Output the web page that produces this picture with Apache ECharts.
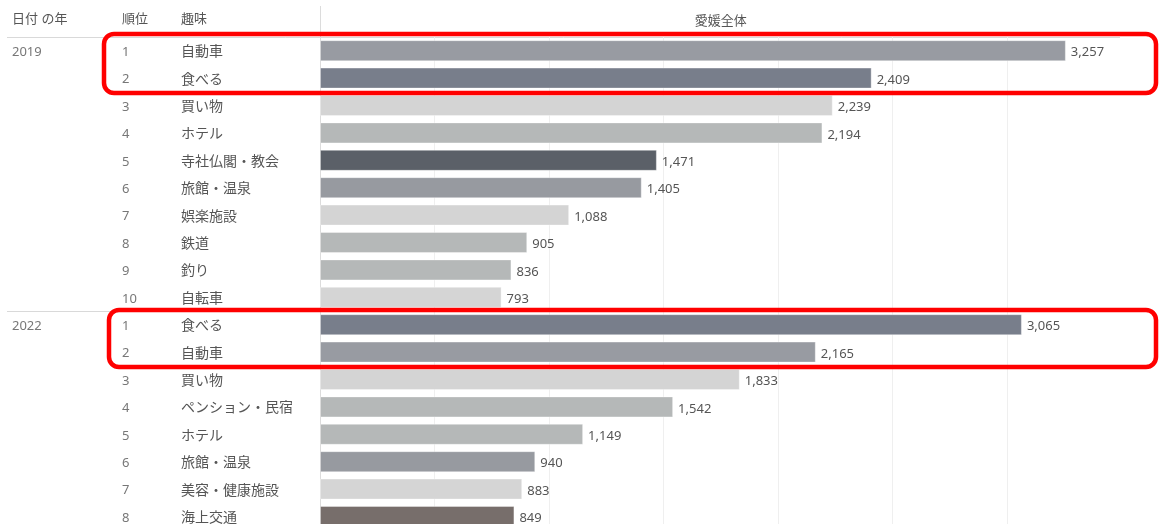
<!DOCTYPE html>
<html>
<head>
<meta charset="utf-8">
<style>
  html, body { margin: 0; padding: 0; background: #ffffff; overflow: hidden; width: 1168px; height: 524px; }
  #chart { width: 1168px; height: 531px; }
</style>
<script src="https://cdn.jsdelivr.net/npm/echarts@6/dist/echarts.min.js"></script>
</head>
<body>
<div id="chart"></div>
<script>
// ---- data ----
const years = ['2019', '2022'];
const hobbies2019 = ['自動車', '食べる', '買い物', 'ホテル', '寺社仏閣・教会', '旅館・温泉', '娯楽施設', '鉄道', '釣り', '自転車'];
const values2019 = [3257, 2409, 2239, 2194, 1471, 1405, 1088, 905, 836, 793];
const hobbies2022 = ['食べる', '自動車', '買い物', 'ペンション・民宿', 'ホテル', '旅館・温泉', '美容・健康施設', '海上交通'];
const values2022 = [3065, 2165, 1833, 1542, 1149, 940, 883, 849];
const headerYear = '日付 の年';
const headerRank = '順位';
const headerHobby = '趣味';
const measureName = '愛媛全体';

// ---- styles ----
const hobbyColors = {
  '自動車': '#989ba2',
  '食べる': '#787e8b',
  '買い物': '#d4d4d4',
  'ホテル': '#b5b8b8',
  '寺社仏閣・教会': '#5b6068',
  '旅館・温泉': '#979aa0',
  '娯楽施設': '#d4d4d4',
  '鉄道': '#b5b8b8',
  '釣り': '#b5b8b8',
  '自転車': '#d5d5d5',
  'ペンション・民宿': '#b5b8b8',
  '美容・健康施設': '#d5d5d5',
  '海上交通': '#776e6b'
};

// ---- build rows ----
const rows = [];
[[years[0], hobbies2019, values2019], [years[1], hobbies2022, values2022]].forEach(([yr, hs, vs]) => {
  hs.forEach((h, i) => rows.push({ key: yr + '-' + (i + 1), year: yr, rank: i + 1, hobby: h, value: vs[i] }));
});
const rowMap = {};
rows.forEach(r => rowMap[r.key] = r);

const FONT = '"Noto Sans", "Noto Sans CJK JP", sans-serif';
const chart = echarts.init(document.getElementById('chart'), null, { renderer: 'canvas' });

const option = {
  backgroundColor: '#ffffff',
  animation: false,
  grid: { left: 320, right: 46.5, top: 37, height: 493.2, containLabel: false },
  xAxis: {
    type: 'value',
    position: 'top',
    min: 0,
    max: 3500,
    interval: 500,
    name: measureName,
    nameLocation: 'middle',
    nameGap: 9,
    nameTextStyle: { color: '#555', fontSize: 13, fontFamily: FONT },
    axisLine: { show: false },
    axisTick: { show: false },
    axisLabel: { show: false },
    splitLine: { show: true, showMinLine: false, showMaxLine: false, lineStyle: { color: '#efefef', width: 1 } }
  },
  yAxis: {
    type: 'category',
    inverse: true,
    data: rows.map(r => r.key),
    axisLine: { show: true, lineStyle: { color: '#dcdcdc', width: 1 } },
    axisTick: { show: false },
    axisLabel: {
      margin: 308,
      align: 'left',
      interval: 0,
      fontFamily: FONT,
      padding: [3, 0, 0, 0],
      formatter: function (v) {
        const r = rowMap[v];
        const y = r.rank === 1 ? r.year : '';
        return '{y|' + y + '}{r|' + r.rank + '}{n|' + r.hobby + '}';
      },
      rich: {
        y: { width: 110, color: '#777', fontSize: 13, fontFamily: FONT },
        r: { width: 59, color: '#777', fontSize: 13, fontFamily: FONT },
        n: { color: '#555', fontSize: 14, fontFamily: FONT }
      }
    },
    splitLine: { show: false }
  },
  series: [{
    type: 'bar',
    barWidth: 21,
    data: rows.map(r => ({
      value: r.value,
      itemStyle: { color: hobbyColors[r.hobby], borderColor: 'rgba(255,255,255,0.35)', borderWidth: 1 }
    })),
    label: {
      show: true,
      position: 'right',
      distance: 5,
      offset: [0, 2],
      color: '#555',
      fontSize: 13,
      fontFamily: FONT,
      formatter: p => p.value.toLocaleString('en-US')
    }
  }],
  graphic: [
    { type: 'text', left: 12, top: 13, style: { text: headerYear, fill: '#555', font: '13px ' + FONT } },
    { type: 'text', left: 122, top: 13, style: { text: headerRank, fill: '#555', font: '13px ' + FONT } },
    { type: 'text', left: 181, top: 13, style: { text: headerHobby, fill: '#555', font: '13px ' + FONT } },
    { type: 'line', shape: { x1: 320.5, y1: 6, x2: 320.5, y2: 37 }, style: { stroke: '#dcdcdc', lineWidth: 1 } },
    { type: 'line', shape: { x1: 7, y1: 37.5, x2: 1120, y2: 37.5 }, style: { stroke: '#d9d9d9', lineWidth: 1 } },
    { type: 'line', shape: { x1: 7, y1: 311.5, x2: 1120, y2: 311.5 }, style: { stroke: '#d9d9d9', lineWidth: 1 } },
    { type: 'rect', z: 100, shape: { x: 104, y: 34, width: 1052, height: 59, r: 10 }, style: { fill: null, stroke: '#ff0000', lineWidth: 4.5 } },
    { type: 'rect', z: 100, shape: { x: 109, y: 310, width: 1047, height: 57, r: 10 }, style: { fill: null, stroke: '#ff0000', lineWidth: 4.5 } }
  ]
};
chart.setOption(option);
</script>
</body>
</html>
